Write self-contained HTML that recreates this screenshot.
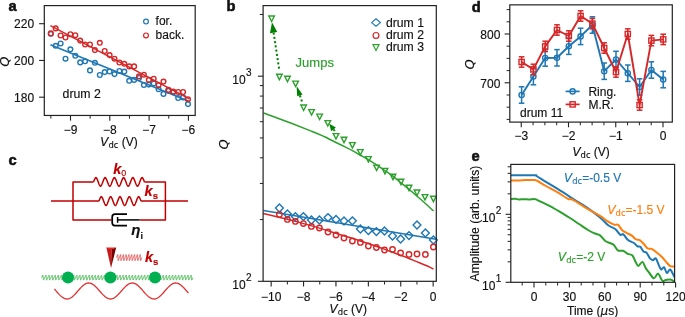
<!DOCTYPE html>
<html><head><meta charset="utf-8"><title>Figure</title>
<style>
html,body{margin:0;padding:0;background:#fff;}
svg{display:block;will-change:transform;font-family:"Liberation Sans",sans-serif;}
</style></head><body>
<svg width="685" height="317" viewBox="0 0 685 317">
<rect width="685" height="317" fill="#fff"/>
<text x="8.4" y="11" font-size="14.7" text-anchor="start" fill="#111" font-weight="bold" stroke="#111" stroke-width="0.55">a</text>
<line x1="50.4" y1="44.7" x2="189.4" y2="101.5" stroke="#1f77b4" stroke-width="1.5" />
<circle cx="50.8" cy="33.8" r="2.35" fill="none" stroke="#1f77b4" stroke-width="1.4"/>
<circle cx="55.7" cy="45.8" r="2.35" fill="none" stroke="#1f77b4" stroke-width="1.4"/>
<circle cx="60.6" cy="43.5" r="2.35" fill="none" stroke="#1f77b4" stroke-width="1.4"/>
<circle cx="65.5" cy="58.7" r="2.35" fill="none" stroke="#1f77b4" stroke-width="1.4"/>
<circle cx="70.4" cy="49.3" r="2.35" fill="none" stroke="#1f77b4" stroke-width="1.4"/>
<circle cx="75.3" cy="55.8" r="2.35" fill="none" stroke="#1f77b4" stroke-width="1.4"/>
<circle cx="80.2" cy="62.4" r="2.35" fill="none" stroke="#1f77b4" stroke-width="1.4"/>
<circle cx="85.1" cy="61.3" r="2.35" fill="none" stroke="#1f77b4" stroke-width="1.4"/>
<circle cx="90" cy="70.4" r="2.35" fill="none" stroke="#1f77b4" stroke-width="1.4"/>
<circle cx="94.9" cy="62.8" r="2.35" fill="none" stroke="#1f77b4" stroke-width="1.4"/>
<circle cx="99.8" cy="75" r="2.35" fill="none" stroke="#1f77b4" stroke-width="1.4"/>
<circle cx="104.7" cy="72.1" r="2.35" fill="none" stroke="#1f77b4" stroke-width="1.4"/>
<circle cx="109.6" cy="71.5" r="2.35" fill="none" stroke="#1f77b4" stroke-width="1.4"/>
<circle cx="114.5" cy="74.1" r="2.35" fill="none" stroke="#1f77b4" stroke-width="1.4"/>
<circle cx="119.4" cy="71" r="2.35" fill="none" stroke="#1f77b4" stroke-width="1.4"/>
<circle cx="124.3" cy="71.6" r="2.35" fill="none" stroke="#1f77b4" stroke-width="1.4"/>
<circle cx="129.2" cy="80.8" r="2.35" fill="none" stroke="#1f77b4" stroke-width="1.4"/>
<circle cx="134.1" cy="79.9" r="2.35" fill="none" stroke="#1f77b4" stroke-width="1.4"/>
<circle cx="139" cy="78" r="2.35" fill="none" stroke="#1f77b4" stroke-width="1.4"/>
<circle cx="143.9" cy="85" r="2.35" fill="none" stroke="#1f77b4" stroke-width="1.4"/>
<circle cx="148.8" cy="84.6" r="2.35" fill="none" stroke="#1f77b4" stroke-width="1.4"/>
<circle cx="153.7" cy="83.4" r="2.35" fill="none" stroke="#1f77b4" stroke-width="1.4"/>
<circle cx="158.6" cy="89.3" r="2.35" fill="none" stroke="#1f77b4" stroke-width="1.4"/>
<circle cx="163.5" cy="93.9" r="2.35" fill="none" stroke="#1f77b4" stroke-width="1.4"/>
<circle cx="168.4" cy="90.8" r="2.35" fill="none" stroke="#1f77b4" stroke-width="1.4"/>
<circle cx="173.3" cy="92.2" r="2.35" fill="none" stroke="#1f77b4" stroke-width="1.4"/>
<circle cx="178.2" cy="98" r="2.35" fill="none" stroke="#1f77b4" stroke-width="1.4"/>
<circle cx="183.1" cy="97.4" r="2.35" fill="none" stroke="#1f77b4" stroke-width="1.4"/>
<circle cx="188" cy="104.1" r="2.35" fill="none" stroke="#1f77b4" stroke-width="1.4"/>
<line x1="50.4" y1="25.6" x2="189.4" y2="98.8" stroke="#d62728" stroke-width="1.5" />
<circle cx="50.8" cy="33.4" r="2.35" fill="none" stroke="#d62728" stroke-width="1.4"/>
<circle cx="55.7" cy="28.4" r="2.35" fill="none" stroke="#d62728" stroke-width="1.4"/>
<circle cx="60.6" cy="35.5" r="2.35" fill="none" stroke="#d62728" stroke-width="1.4"/>
<circle cx="65.5" cy="37.5" r="2.35" fill="none" stroke="#d62728" stroke-width="1.4"/>
<circle cx="70.4" cy="34.2" r="2.35" fill="none" stroke="#d62728" stroke-width="1.4"/>
<circle cx="75.3" cy="35.2" r="2.35" fill="none" stroke="#d62728" stroke-width="1.4"/>
<circle cx="80.2" cy="40.6" r="2.35" fill="none" stroke="#d62728" stroke-width="1.4"/>
<circle cx="85.1" cy="44.5" r="2.35" fill="none" stroke="#d62728" stroke-width="1.4"/>
<circle cx="90" cy="44.5" r="2.35" fill="none" stroke="#d62728" stroke-width="1.4"/>
<circle cx="94.9" cy="50.1" r="2.35" fill="none" stroke="#d62728" stroke-width="1.4"/>
<circle cx="99.8" cy="42.8" r="2.35" fill="none" stroke="#d62728" stroke-width="1.4"/>
<circle cx="104.7" cy="51" r="2.35" fill="none" stroke="#d62728" stroke-width="1.4"/>
<circle cx="109.6" cy="55.1" r="2.35" fill="none" stroke="#d62728" stroke-width="1.4"/>
<circle cx="114.5" cy="58.7" r="2.35" fill="none" stroke="#d62728" stroke-width="1.4"/>
<circle cx="119.4" cy="62.5" r="2.35" fill="none" stroke="#d62728" stroke-width="1.4"/>
<circle cx="124.3" cy="63.8" r="2.35" fill="none" stroke="#d62728" stroke-width="1.4"/>
<circle cx="129.2" cy="66.4" r="2.35" fill="none" stroke="#d62728" stroke-width="1.4"/>
<circle cx="134.1" cy="66.4" r="2.35" fill="none" stroke="#d62728" stroke-width="1.4"/>
<circle cx="139" cy="76.3" r="2.35" fill="none" stroke="#d62728" stroke-width="1.4"/>
<circle cx="143.9" cy="74.7" r="2.35" fill="none" stroke="#d62728" stroke-width="1.4"/>
<circle cx="148.8" cy="79.9" r="2.35" fill="none" stroke="#d62728" stroke-width="1.4"/>
<circle cx="153.7" cy="78.7" r="2.35" fill="none" stroke="#d62728" stroke-width="1.4"/>
<circle cx="158.6" cy="85.1" r="2.35" fill="none" stroke="#d62728" stroke-width="1.4"/>
<circle cx="163.5" cy="81.6" r="2.35" fill="none" stroke="#d62728" stroke-width="1.4"/>
<circle cx="168.4" cy="89.9" r="2.35" fill="none" stroke="#d62728" stroke-width="1.4"/>
<circle cx="173.3" cy="91.6" r="2.35" fill="none" stroke="#d62728" stroke-width="1.4"/>
<circle cx="178.2" cy="92" r="2.35" fill="none" stroke="#d62728" stroke-width="1.4"/>
<circle cx="183.1" cy="92" r="2.35" fill="none" stroke="#d62728" stroke-width="1.4"/>
<circle cx="188" cy="99.2" r="2.35" fill="none" stroke="#d62728" stroke-width="1.4"/>
<rect x="44.3" y="5.6" width="150.9" height="109.85" fill="none" stroke="#222" stroke-width="1.2"/>
<line x1="70.5" y1="115.45" x2="70.5" y2="120.65" stroke="#222" stroke-width="1.1" />
<text x="70.5" y="133.9" font-size="12" text-anchor="middle" fill="#111"  stroke="#111" stroke-width="0.15">−9</text>
<line x1="109.8" y1="115.45" x2="109.8" y2="120.65" stroke="#222" stroke-width="1.1" />
<text x="109.8" y="133.9" font-size="12" text-anchor="middle" fill="#111"  stroke="#111" stroke-width="0.15">−8</text>
<line x1="149.1" y1="115.45" x2="149.1" y2="120.65" stroke="#222" stroke-width="1.1" />
<text x="149.1" y="133.9" font-size="12" text-anchor="middle" fill="#111"  stroke="#111" stroke-width="0.15">−7</text>
<line x1="188.4" y1="115.45" x2="188.4" y2="120.65" stroke="#222" stroke-width="1.1" />
<text x="188.4" y="133.9" font-size="12" text-anchor="middle" fill="#111"  stroke="#111" stroke-width="0.15">−6</text>
<line x1="50.85" y1="115.45" x2="50.85" y2="118.65" stroke="#222" stroke-width="1.0" />
<line x1="90.15" y1="115.45" x2="90.15" y2="118.65" stroke="#222" stroke-width="1.0" />
<line x1="129.45" y1="115.45" x2="129.45" y2="118.65" stroke="#222" stroke-width="1.0" />
<line x1="168.75" y1="115.45" x2="168.75" y2="118.65" stroke="#222" stroke-width="1.0" />
<line x1="39.1" y1="97.2" x2="44.3" y2="97.2" stroke="#222" stroke-width="1.1" />
<text x="34.1" y="101.5" font-size="12" text-anchor="end" fill="#111"  stroke="#111" stroke-width="0.15">180</text>
<line x1="39.1" y1="60.45" x2="44.3" y2="60.45" stroke="#222" stroke-width="1.1" />
<text x="34.1" y="64.75" font-size="12" text-anchor="end" fill="#111"  stroke="#111" stroke-width="0.15">200</text>
<line x1="39.1" y1="23.7" x2="44.3" y2="23.7" stroke="#222" stroke-width="1.1" />
<text x="34.1" y="28" font-size="12" text-anchor="end" fill="#111"  stroke="#111" stroke-width="0.15">220</text>
<text x="100.3" y="146.4" font-size="12" text-anchor="start" fill="#111" stroke="#111" stroke-width="0.15"><tspan font-style="italic" font-family="DejaVu Sans, sans-serif">V</tspan><tspan font-size="8.4" dy="2" font-family="DejaVu Sans, sans-serif">dc</tspan><tspan dy="-2"> (V)</tspan></text>
<text transform="translate(9.4,61.6) rotate(-90)" font-size="13" text-anchor="middle" font-style="italic" font-family="DejaVu Sans, sans-serif" fill="#111" stroke="#111" stroke-width="0.15">Q</text>
<text x="62.6" y="97.9" font-size="12.3" text-anchor="start" fill="#111"  stroke="#111" stroke-width="0.15">drum 2</text>
<circle cx="146" cy="21.6" r="2.4" fill="none" stroke="#1f77b4" stroke-width="1.2"/>
<text x="155.6" y="25.2" font-size="12" text-anchor="start" fill="#111"  stroke="#111" stroke-width="0.15">for.</text>
<circle cx="146" cy="35.4" r="2.4" fill="none" stroke="#d62728" stroke-width="1.2"/>
<text x="155.6" y="38.6" font-size="12" text-anchor="start" fill="#111"  stroke="#111" stroke-width="0.15">back.</text>
<text x="226.6" y="11.1" font-size="14.7" text-anchor="start" fill="#111" font-weight="bold" stroke="#111" stroke-width="0.55">b</text>
<path d="M263.6,113 C279.07,118.87 285.87,120.77 310,130.6 C334.13,140.43 319.33,134.37 336,142.5 C352.67,150.63 344,145.83 360,155 C376,164.17 370.67,161 384,170 C397.33,179 388.67,173 400,182 C411.33,191 406.8,187.33 418,197 C429.2,206.67 428.4,206.33 433.6,211" fill="none" stroke="#2ca02c" stroke-width="1.5" stroke-linejoin="round"/>
<line x1="263.4" y1="210.6" x2="436" y2="239.3" stroke="#1f77b4" stroke-width="1.5" />
<path d="M263.1,213.4 C275.4,216.47 276.03,216.07 300,222.6 C323.97,229.13 313.33,226.37 335,233 C356.67,239.63 346,236.17 365,242.5 C384,248.83 373.67,245.17 392,252 C410.33,258.83 406.17,257.33 420,263 C433.83,268.67 429,267 433.5,269" fill="none" stroke="#d62728" stroke-width="1.5" stroke-linejoin="round"/>
<path d="M275.5,208 L279.4,204.1 L283.3,208 L279.4,211.9 Z" fill="none" stroke="#1f77b4" stroke-width="1.4"/>
<path d="M283.5,214 L287.4,210.1 L291.3,214 L287.4,217.9 Z" fill="none" stroke="#1f77b4" stroke-width="1.4"/>
<path d="M291.5,216.6 L295.4,212.7 L299.3,216.6 L295.4,220.5 Z" fill="none" stroke="#1f77b4" stroke-width="1.4"/>
<path d="M299.5,216.6 L303.4,212.7 L307.3,216.6 L303.4,220.5 Z" fill="none" stroke="#1f77b4" stroke-width="1.4"/>
<path d="M307.5,220 L311.4,216.1 L315.3,220 L311.4,223.9 Z" fill="none" stroke="#1f77b4" stroke-width="1.4"/>
<path d="M315.5,220 L319.4,216.1 L323.3,220 L319.4,223.9 Z" fill="none" stroke="#1f77b4" stroke-width="1.4"/>
<path d="M324.1,217.6 L328,213.7 L331.9,217.6 L328,221.5 Z" fill="none" stroke="#1f77b4" stroke-width="1.4"/>
<path d="M332.1,219.4 L336,215.5 L339.9,219.4 L336,223.3 Z" fill="none" stroke="#1f77b4" stroke-width="1.4"/>
<path d="M340.1,221 L344,217.1 L347.9,221 L344,224.9 Z" fill="none" stroke="#1f77b4" stroke-width="1.4"/>
<path d="M348.5,220.8 L352.4,216.9 L356.3,220.8 L352.4,224.7 Z" fill="none" stroke="#1f77b4" stroke-width="1.4"/>
<path d="M356.5,229 L360.4,225.1 L364.3,229 L360.4,232.9 Z" fill="none" stroke="#1f77b4" stroke-width="1.4"/>
<path d="M364.5,230.6 L368.4,226.7 L372.3,230.6 L368.4,234.5 Z" fill="none" stroke="#1f77b4" stroke-width="1.4"/>
<path d="M372.5,231.6 L376.4,227.7 L380.3,231.6 L376.4,235.5 Z" fill="none" stroke="#1f77b4" stroke-width="1.4"/>
<path d="M380.6,231 L384.5,227.1 L388.4,231 L384.5,234.9 Z" fill="none" stroke="#1f77b4" stroke-width="1.4"/>
<path d="M388.6,236 L392.5,232.1 L396.4,236 L392.5,239.9 Z" fill="none" stroke="#1f77b4" stroke-width="1.4"/>
<path d="M396.7,239 L400.6,235.1 L404.5,239 L400.6,242.9 Z" fill="none" stroke="#1f77b4" stroke-width="1.4"/>
<path d="M405.1,235.6 L409,231.7 L412.9,235.6 L409,239.5 Z" fill="none" stroke="#1f77b4" stroke-width="1.4"/>
<path d="M413.1,225 L417,221.1 L420.9,225 L417,228.9 Z" fill="none" stroke="#1f77b4" stroke-width="1.4"/>
<path d="M421.5,233 L425.4,229.1 L429.3,233 L425.4,236.9 Z" fill="none" stroke="#1f77b4" stroke-width="1.4"/>
<path d="M429.5,240 L433.4,236.1 L437.3,240 L433.4,243.9 Z" fill="none" stroke="#1f77b4" stroke-width="1.4"/>
<circle cx="279.4" cy="214.4" r="2.7" fill="none" stroke="#d62728" stroke-width="1.4"/>
<circle cx="287.4" cy="219.4" r="2.7" fill="none" stroke="#d62728" stroke-width="1.4"/>
<circle cx="295.4" cy="221.4" r="2.7" fill="none" stroke="#d62728" stroke-width="1.4"/>
<circle cx="303.4" cy="223.6" r="2.7" fill="none" stroke="#d62728" stroke-width="1.4"/>
<circle cx="311.4" cy="226.4" r="2.7" fill="none" stroke="#d62728" stroke-width="1.4"/>
<circle cx="319.4" cy="228" r="2.7" fill="none" stroke="#d62728" stroke-width="1.4"/>
<circle cx="328" cy="232" r="2.7" fill="none" stroke="#d62728" stroke-width="1.4"/>
<circle cx="336" cy="235" r="2.7" fill="none" stroke="#d62728" stroke-width="1.4"/>
<circle cx="344" cy="238" r="2.7" fill="none" stroke="#d62728" stroke-width="1.4"/>
<circle cx="352.4" cy="241" r="2.7" fill="none" stroke="#d62728" stroke-width="1.4"/>
<circle cx="360.4" cy="242.4" r="2.7" fill="none" stroke="#d62728" stroke-width="1.4"/>
<circle cx="368.4" cy="246" r="2.7" fill="none" stroke="#d62728" stroke-width="1.4"/>
<circle cx="376.4" cy="247.5" r="2.7" fill="none" stroke="#d62728" stroke-width="1.4"/>
<circle cx="384.5" cy="250" r="2.7" fill="none" stroke="#d62728" stroke-width="1.4"/>
<circle cx="392.5" cy="249.5" r="2.7" fill="none" stroke="#d62728" stroke-width="1.4"/>
<circle cx="400.6" cy="253" r="2.7" fill="none" stroke="#d62728" stroke-width="1.4"/>
<circle cx="409" cy="254.4" r="2.7" fill="none" stroke="#d62728" stroke-width="1.4"/>
<circle cx="417" cy="254" r="2.7" fill="none" stroke="#d62728" stroke-width="1.4"/>
<circle cx="425.4" cy="254.4" r="2.7" fill="none" stroke="#d62728" stroke-width="1.4"/>
<circle cx="433.4" cy="247" r="2.7" fill="none" stroke="#d62728" stroke-width="1.4"/>
<path d="M268.8,16.02 L274.4,16.02 L271.6,21.48 Z" fill="none" stroke="#2ca02c" stroke-width="1.4" stroke-linejoin="miter"/>
<path d="M276.6,74.22 L282.2,74.22 L279.4,79.68 Z" fill="none" stroke="#2ca02c" stroke-width="1.4" stroke-linejoin="miter"/>
<path d="M284.7,76.22 L290.3,76.22 L287.5,81.68 Z" fill="none" stroke="#2ca02c" stroke-width="1.4" stroke-linejoin="miter"/>
<path d="M292.8,81.12 L298.4,81.12 L295.6,86.58 Z" fill="none" stroke="#2ca02c" stroke-width="1.4" stroke-linejoin="miter"/>
<path d="M300.8,105.02 L306.4,105.02 L303.6,110.48 Z" fill="none" stroke="#2ca02c" stroke-width="1.4" stroke-linejoin="miter"/>
<path d="M308.8,109.62 L314.4,109.62 L311.6,115.08 Z" fill="none" stroke="#2ca02c" stroke-width="1.4" stroke-linejoin="miter"/>
<path d="M316.8,114.12 L322.4,114.12 L319.6,119.58 Z" fill="none" stroke="#2ca02c" stroke-width="1.4" stroke-linejoin="miter"/>
<path d="M325,120.62 L330.6,120.62 L327.8,126.08 Z" fill="none" stroke="#2ca02c" stroke-width="1.4" stroke-linejoin="miter"/>
<path d="M333.2,133.62 L338.8,133.62 L336,139.08 Z" fill="none" stroke="#2ca02c" stroke-width="1.4" stroke-linejoin="miter"/>
<path d="M341.2,137.22 L346.8,137.22 L344,142.68 Z" fill="none" stroke="#2ca02c" stroke-width="1.4" stroke-linejoin="miter"/>
<path d="M349.6,142.62 L355.2,142.62 L352.4,148.08 Z" fill="none" stroke="#2ca02c" stroke-width="1.4" stroke-linejoin="miter"/>
<path d="M357.5,149.62 L363.1,149.62 L360.3,155.08 Z" fill="none" stroke="#2ca02c" stroke-width="1.4" stroke-linejoin="miter"/>
<path d="M365.6,156.62 L371.2,156.62 L368.4,162.08 Z" fill="none" stroke="#2ca02c" stroke-width="1.4" stroke-linejoin="miter"/>
<path d="M373.8,165.12 L379.4,165.12 L376.6,170.58 Z" fill="none" stroke="#2ca02c" stroke-width="1.4" stroke-linejoin="miter"/>
<path d="M382.2,168.42 L387.8,168.42 L385,173.88 Z" fill="none" stroke="#2ca02c" stroke-width="1.4" stroke-linejoin="miter"/>
<path d="M390.2,174.22 L395.8,174.22 L393,179.68 Z" fill="none" stroke="#2ca02c" stroke-width="1.4" stroke-linejoin="miter"/>
<path d="M398.2,179.22 L403.8,179.22 L401,184.68 Z" fill="none" stroke="#2ca02c" stroke-width="1.4" stroke-linejoin="miter"/>
<path d="M406.2,185.22 L411.8,185.22 L409,190.68 Z" fill="none" stroke="#2ca02c" stroke-width="1.4" stroke-linejoin="miter"/>
<path d="M414.2,190.02 L419.8,190.02 L417,195.48 Z" fill="none" stroke="#2ca02c" stroke-width="1.4" stroke-linejoin="miter"/>
<path d="M422.2,194.62 L427.8,194.62 L425,200.08 Z" fill="none" stroke="#2ca02c" stroke-width="1.4" stroke-linejoin="miter"/>
<path d="M430.6,196.22 L436.2,196.22 L433.4,201.68 Z" fill="none" stroke="#2ca02c" stroke-width="1.4" stroke-linejoin="miter"/>
<path d="M272,22.2 L269.93,33.14 L277.24,32.02 Z" fill="#008000"/>
<line x1="273.59" y1="32.58" x2="279.3" y2="70" stroke="#008000" stroke-width="2" stroke-dasharray="2 2.3"/>
<path d="M296.6,86 L297.22,96.37 L302.51,94.54 Z" fill="#008000"/>
<line x1="299.87" y1="95.45" x2="302.3" y2="102.5" stroke="#008000" stroke-width="2" stroke-dasharray="2 2.3"/>
<path d="M329.3,123.8 L331.1,131.2 L335.9,127.6 Z" fill="#008000"/>
<line x1="333.5" y1="129.4" x2="335.3" y2="131.8" stroke="#008000" stroke-width="2" stroke-dasharray="2 2.3"/>
<text x="295.6" y="67" font-size="13" text-anchor="start" fill="#2ca02c"  stroke="#2ca02c" stroke-width="0.15">Jumps</text>
<rect x="263.1" y="5.6" width="173.2" height="275.7" fill="none" stroke="#222" stroke-width="1.2"/>
<line x1="271.15" y1="281.3" x2="271.15" y2="286.5" stroke="#222" stroke-width="1.1" />
<text x="271.15" y="301" font-size="12" text-anchor="middle" fill="#111"  stroke="#111" stroke-width="0.15">−10</text>
<line x1="303.55" y1="281.3" x2="303.55" y2="286.5" stroke="#222" stroke-width="1.1" />
<text x="303.55" y="301" font-size="12" text-anchor="middle" fill="#111"  stroke="#111" stroke-width="0.15">−8</text>
<line x1="335.95" y1="281.3" x2="335.95" y2="286.5" stroke="#222" stroke-width="1.1" />
<text x="335.95" y="301" font-size="12" text-anchor="middle" fill="#111"  stroke="#111" stroke-width="0.15">−6</text>
<line x1="368.35" y1="281.3" x2="368.35" y2="286.5" stroke="#222" stroke-width="1.1" />
<text x="368.35" y="301" font-size="12" text-anchor="middle" fill="#111"  stroke="#111" stroke-width="0.15">−4</text>
<line x1="400.75" y1="281.3" x2="400.75" y2="286.5" stroke="#222" stroke-width="1.1" />
<text x="400.75" y="301" font-size="12" text-anchor="middle" fill="#111"  stroke="#111" stroke-width="0.15">−2</text>
<line x1="433.15" y1="281.3" x2="433.15" y2="286.5" stroke="#222" stroke-width="1.1" />
<text x="433.15" y="301" font-size="12" text-anchor="middle" fill="#111"  stroke="#111" stroke-width="0.15">0</text>
<line x1="287.35" y1="281.3" x2="287.35" y2="284.5" stroke="#222" stroke-width="1.0" />
<line x1="319.75" y1="281.3" x2="319.75" y2="284.5" stroke="#222" stroke-width="1.0" />
<line x1="352.15" y1="281.3" x2="352.15" y2="284.5" stroke="#222" stroke-width="1.0" />
<line x1="384.55" y1="281.3" x2="384.55" y2="284.5" stroke="#222" stroke-width="1.0" />
<line x1="416.95" y1="281.3" x2="416.95" y2="284.5" stroke="#222" stroke-width="1.0" />
<line x1="257.9" y1="281.3" x2="263.1" y2="281.3" stroke="#222" stroke-width="1.1" />
<line x1="257.9" y1="76.2" x2="263.1" y2="76.2" stroke="#222" stroke-width="1.1" />
<line x1="259.9" y1="219.56" x2="263.1" y2="219.56" stroke="#222" stroke-width="1.0" />
<line x1="259.9" y1="183.44" x2="263.1" y2="183.44" stroke="#222" stroke-width="1.0" />
<line x1="259.9" y1="157.82" x2="263.1" y2="157.82" stroke="#222" stroke-width="1.0" />
<line x1="259.9" y1="137.94" x2="263.1" y2="137.94" stroke="#222" stroke-width="1.0" />
<line x1="259.9" y1="121.7" x2="263.1" y2="121.7" stroke="#222" stroke-width="1.0" />
<line x1="259.9" y1="107.97" x2="263.1" y2="107.97" stroke="#222" stroke-width="1.0" />
<line x1="259.9" y1="96.08" x2="263.1" y2="96.08" stroke="#222" stroke-width="1.0" />
<line x1="259.9" y1="85.58" x2="263.1" y2="85.58" stroke="#222" stroke-width="1.0" />
<line x1="259.9" y1="14.46" x2="263.1" y2="14.46" stroke="#222" stroke-width="1.0" />
<text x="232.3" y="288.8" font-size="12" fill="#111" stroke="#111" stroke-width="0.15">10<tspan font-size="10" dy="-8" dx="0.4">2</tspan></text>
<text x="232.3" y="83.8" font-size="12" fill="#111" stroke="#111" stroke-width="0.15">10<tspan font-size="10" dy="-8" dx="0.4">3</tspan></text>
<text x="329.6" y="313" font-size="12" text-anchor="start" fill="#111" stroke="#111" stroke-width="0.15"><tspan font-style="italic" font-family="DejaVu Sans, sans-serif">V</tspan><tspan font-size="8.4" dy="2" font-family="DejaVu Sans, sans-serif">dc</tspan><tspan dy="-2"> (V)</tspan></text>
<text transform="translate(227.6,144.4) rotate(-90)" font-size="13" text-anchor="middle" font-style="italic" font-family="DejaVu Sans, sans-serif" fill="#111" stroke="#111" stroke-width="0.15">Q</text>
<path d="M371.6,22.6 L376,18.9 L380.4,22.6 L376,26.3 Z" fill="none" stroke="#1f77b4" stroke-width="1.2"/>
<text x="386" y="26.6" font-size="12.2" text-anchor="start" fill="#111"  stroke="#111" stroke-width="0.15">drum 1</text>
<circle cx="376" cy="35.4" r="2.9" fill="none" stroke="#d62728" stroke-width="1.2"/>
<text x="386" y="39" font-size="12.2" text-anchor="start" fill="#111"  stroke="#111" stroke-width="0.15">drum 2</text>
<path d="M373,44.65 L379,44.65 L376,50.5 Z" fill="none" stroke="#2ca02c" stroke-width="1.2" stroke-linejoin="miter"/>
<text x="386" y="51" font-size="12.2" text-anchor="start" fill="#111"  stroke="#111" stroke-width="0.15">drum 3</text>
<text x="471.7" y="11.7" font-size="14.7" text-anchor="start" fill="#111" font-weight="bold" stroke="#111" stroke-width="0.55">d</text>
<polyline points="521.6,95 533.4,76.6 545.2,58 557,57.8 568.8,46.2 580.6,36.4 592.4,25 604.2,71.2 616,59.5 627.8,73.2 639.6,87 651.4,70 663.2,79.6" fill="none" stroke="#1f77b4" stroke-width="1.9" stroke-linejoin="round" />
<line x1="521.6" y1="86.8" x2="521.6" y2="103.2" stroke="#1f77b4" stroke-width="1.5" />
<line x1="518.8" y1="86.8" x2="524.4" y2="86.8" stroke="#1f77b4" stroke-width="1.5" />
<line x1="518.8" y1="103.2" x2="524.4" y2="103.2" stroke="#1f77b4" stroke-width="1.5" />
<circle cx="521.6" cy="95" r="2.6" fill="none" stroke="#1f77b4" stroke-width="1.4"/>
<line x1="533.4" y1="68.4" x2="533.4" y2="84.8" stroke="#1f77b4" stroke-width="1.5" />
<line x1="530.6" y1="68.4" x2="536.2" y2="68.4" stroke="#1f77b4" stroke-width="1.5" />
<line x1="530.6" y1="84.8" x2="536.2" y2="84.8" stroke="#1f77b4" stroke-width="1.5" />
<circle cx="533.4" cy="76.6" r="2.6" fill="none" stroke="#1f77b4" stroke-width="1.4"/>
<line x1="545.2" y1="49.8" x2="545.2" y2="66.2" stroke="#1f77b4" stroke-width="1.5" />
<line x1="542.4" y1="49.8" x2="548" y2="49.8" stroke="#1f77b4" stroke-width="1.5" />
<line x1="542.4" y1="66.2" x2="548" y2="66.2" stroke="#1f77b4" stroke-width="1.5" />
<circle cx="545.2" cy="58" r="2.6" fill="none" stroke="#1f77b4" stroke-width="1.4"/>
<line x1="557" y1="49.6" x2="557" y2="66" stroke="#1f77b4" stroke-width="1.5" />
<line x1="554.2" y1="49.6" x2="559.8" y2="49.6" stroke="#1f77b4" stroke-width="1.5" />
<line x1="554.2" y1="66" x2="559.8" y2="66" stroke="#1f77b4" stroke-width="1.5" />
<circle cx="557" cy="57.8" r="2.6" fill="none" stroke="#1f77b4" stroke-width="1.4"/>
<line x1="568.8" y1="38" x2="568.8" y2="54.4" stroke="#1f77b4" stroke-width="1.5" />
<line x1="566" y1="38" x2="571.6" y2="38" stroke="#1f77b4" stroke-width="1.5" />
<line x1="566" y1="54.4" x2="571.6" y2="54.4" stroke="#1f77b4" stroke-width="1.5" />
<circle cx="568.8" cy="46.2" r="2.6" fill="none" stroke="#1f77b4" stroke-width="1.4"/>
<line x1="580.6" y1="28.2" x2="580.6" y2="44.6" stroke="#1f77b4" stroke-width="1.5" />
<line x1="577.8" y1="28.2" x2="583.4" y2="28.2" stroke="#1f77b4" stroke-width="1.5" />
<line x1="577.8" y1="44.6" x2="583.4" y2="44.6" stroke="#1f77b4" stroke-width="1.5" />
<circle cx="580.6" cy="36.4" r="2.6" fill="none" stroke="#1f77b4" stroke-width="1.4"/>
<line x1="592.4" y1="16.8" x2="592.4" y2="33.2" stroke="#1f77b4" stroke-width="1.5" />
<line x1="589.6" y1="16.8" x2="595.2" y2="16.8" stroke="#1f77b4" stroke-width="1.5" />
<line x1="589.6" y1="33.2" x2="595.2" y2="33.2" stroke="#1f77b4" stroke-width="1.5" />
<circle cx="592.4" cy="25" r="2.6" fill="none" stroke="#1f77b4" stroke-width="1.4"/>
<line x1="604.2" y1="63" x2="604.2" y2="79.4" stroke="#1f77b4" stroke-width="1.5" />
<line x1="601.4" y1="63" x2="607" y2="63" stroke="#1f77b4" stroke-width="1.5" />
<line x1="601.4" y1="79.4" x2="607" y2="79.4" stroke="#1f77b4" stroke-width="1.5" />
<circle cx="604.2" cy="71.2" r="2.6" fill="none" stroke="#1f77b4" stroke-width="1.4"/>
<line x1="616" y1="51.3" x2="616" y2="67.7" stroke="#1f77b4" stroke-width="1.5" />
<line x1="613.2" y1="51.3" x2="618.8" y2="51.3" stroke="#1f77b4" stroke-width="1.5" />
<line x1="613.2" y1="67.7" x2="618.8" y2="67.7" stroke="#1f77b4" stroke-width="1.5" />
<circle cx="616" cy="59.5" r="2.6" fill="none" stroke="#1f77b4" stroke-width="1.4"/>
<line x1="627.8" y1="65" x2="627.8" y2="81.4" stroke="#1f77b4" stroke-width="1.5" />
<line x1="625" y1="65" x2="630.6" y2="65" stroke="#1f77b4" stroke-width="1.5" />
<line x1="625" y1="81.4" x2="630.6" y2="81.4" stroke="#1f77b4" stroke-width="1.5" />
<circle cx="627.8" cy="73.2" r="2.6" fill="none" stroke="#1f77b4" stroke-width="1.4"/>
<line x1="639.6" y1="78.8" x2="639.6" y2="95.2" stroke="#1f77b4" stroke-width="1.5" />
<line x1="636.8" y1="78.8" x2="642.4" y2="78.8" stroke="#1f77b4" stroke-width="1.5" />
<line x1="636.8" y1="95.2" x2="642.4" y2="95.2" stroke="#1f77b4" stroke-width="1.5" />
<circle cx="639.6" cy="87" r="2.6" fill="none" stroke="#1f77b4" stroke-width="1.4"/>
<line x1="651.4" y1="61.8" x2="651.4" y2="78.2" stroke="#1f77b4" stroke-width="1.5" />
<line x1="648.6" y1="61.8" x2="654.2" y2="61.8" stroke="#1f77b4" stroke-width="1.5" />
<line x1="648.6" y1="78.2" x2="654.2" y2="78.2" stroke="#1f77b4" stroke-width="1.5" />
<circle cx="651.4" cy="70" r="2.6" fill="none" stroke="#1f77b4" stroke-width="1.4"/>
<line x1="663.2" y1="71.4" x2="663.2" y2="87.8" stroke="#1f77b4" stroke-width="1.5" />
<line x1="660.4" y1="71.4" x2="666" y2="71.4" stroke="#1f77b4" stroke-width="1.5" />
<line x1="660.4" y1="87.8" x2="666" y2="87.8" stroke="#1f77b4" stroke-width="1.5" />
<circle cx="663.2" cy="79.6" r="2.6" fill="none" stroke="#1f77b4" stroke-width="1.4"/>
<polyline points="521.6,62 533.4,69.4 545.2,46.4 557,30 568.8,36 580.6,16 592.4,23.6 604.2,48 616,72 627.8,34 639.6,105 651.4,40.6 663.2,39.4" fill="none" stroke="#d62728" stroke-width="1.9" stroke-linejoin="round" />
<line x1="521.6" y1="56.8" x2="521.6" y2="67.2" stroke="#d62728" stroke-width="1.5" />
<line x1="518.8" y1="56.8" x2="524.4" y2="56.8" stroke="#d62728" stroke-width="1.5" />
<line x1="518.8" y1="67.2" x2="524.4" y2="67.2" stroke="#d62728" stroke-width="1.5" />
<rect x="519" y="59.4" width="5.2" height="5.2" fill="none" stroke="#d62728" stroke-width="1.4"/>
<line x1="533.4" y1="64.2" x2="533.4" y2="74.6" stroke="#d62728" stroke-width="1.5" />
<line x1="530.6" y1="64.2" x2="536.2" y2="64.2" stroke="#d62728" stroke-width="1.5" />
<line x1="530.6" y1="74.6" x2="536.2" y2="74.6" stroke="#d62728" stroke-width="1.5" />
<rect x="530.8" y="66.8" width="5.2" height="5.2" fill="none" stroke="#d62728" stroke-width="1.4"/>
<line x1="545.2" y1="41.2" x2="545.2" y2="51.6" stroke="#d62728" stroke-width="1.5" />
<line x1="542.4" y1="41.2" x2="548" y2="41.2" stroke="#d62728" stroke-width="1.5" />
<line x1="542.4" y1="51.6" x2="548" y2="51.6" stroke="#d62728" stroke-width="1.5" />
<rect x="542.6" y="43.8" width="5.2" height="5.2" fill="none" stroke="#d62728" stroke-width="1.4"/>
<line x1="557" y1="24.8" x2="557" y2="35.2" stroke="#d62728" stroke-width="1.5" />
<line x1="554.2" y1="24.8" x2="559.8" y2="24.8" stroke="#d62728" stroke-width="1.5" />
<line x1="554.2" y1="35.2" x2="559.8" y2="35.2" stroke="#d62728" stroke-width="1.5" />
<rect x="554.4" y="27.4" width="5.2" height="5.2" fill="none" stroke="#d62728" stroke-width="1.4"/>
<line x1="568.8" y1="30.8" x2="568.8" y2="41.2" stroke="#d62728" stroke-width="1.5" />
<line x1="566" y1="30.8" x2="571.6" y2="30.8" stroke="#d62728" stroke-width="1.5" />
<line x1="566" y1="41.2" x2="571.6" y2="41.2" stroke="#d62728" stroke-width="1.5" />
<rect x="566.2" y="33.4" width="5.2" height="5.2" fill="none" stroke="#d62728" stroke-width="1.4"/>
<line x1="580.6" y1="10.8" x2="580.6" y2="21.2" stroke="#d62728" stroke-width="1.5" />
<line x1="577.8" y1="10.8" x2="583.4" y2="10.8" stroke="#d62728" stroke-width="1.5" />
<line x1="577.8" y1="21.2" x2="583.4" y2="21.2" stroke="#d62728" stroke-width="1.5" />
<rect x="578" y="13.4" width="5.2" height="5.2" fill="none" stroke="#d62728" stroke-width="1.4"/>
<line x1="592.4" y1="18.4" x2="592.4" y2="28.8" stroke="#d62728" stroke-width="1.5" />
<line x1="589.6" y1="18.4" x2="595.2" y2="18.4" stroke="#d62728" stroke-width="1.5" />
<line x1="589.6" y1="28.8" x2="595.2" y2="28.8" stroke="#d62728" stroke-width="1.5" />
<rect x="589.8" y="21" width="5.2" height="5.2" fill="none" stroke="#d62728" stroke-width="1.4"/>
<line x1="604.2" y1="42.8" x2="604.2" y2="53.2" stroke="#d62728" stroke-width="1.5" />
<line x1="601.4" y1="42.8" x2="607" y2="42.8" stroke="#d62728" stroke-width="1.5" />
<line x1="601.4" y1="53.2" x2="607" y2="53.2" stroke="#d62728" stroke-width="1.5" />
<rect x="601.6" y="45.4" width="5.2" height="5.2" fill="none" stroke="#d62728" stroke-width="1.4"/>
<line x1="616" y1="66.8" x2="616" y2="77.2" stroke="#d62728" stroke-width="1.5" />
<line x1="613.2" y1="66.8" x2="618.8" y2="66.8" stroke="#d62728" stroke-width="1.5" />
<line x1="613.2" y1="77.2" x2="618.8" y2="77.2" stroke="#d62728" stroke-width="1.5" />
<rect x="613.4" y="69.4" width="5.2" height="5.2" fill="none" stroke="#d62728" stroke-width="1.4"/>
<line x1="627.8" y1="28.8" x2="627.8" y2="39.2" stroke="#d62728" stroke-width="1.5" />
<line x1="625" y1="28.8" x2="630.6" y2="28.8" stroke="#d62728" stroke-width="1.5" />
<line x1="625" y1="39.2" x2="630.6" y2="39.2" stroke="#d62728" stroke-width="1.5" />
<rect x="625.2" y="31.4" width="5.2" height="5.2" fill="none" stroke="#d62728" stroke-width="1.4"/>
<line x1="639.6" y1="99.8" x2="639.6" y2="110.2" stroke="#d62728" stroke-width="1.5" />
<line x1="636.8" y1="99.8" x2="642.4" y2="99.8" stroke="#d62728" stroke-width="1.5" />
<line x1="636.8" y1="110.2" x2="642.4" y2="110.2" stroke="#d62728" stroke-width="1.5" />
<rect x="637" y="102.4" width="5.2" height="5.2" fill="none" stroke="#d62728" stroke-width="1.4"/>
<line x1="651.4" y1="35.4" x2="651.4" y2="45.8" stroke="#d62728" stroke-width="1.5" />
<line x1="648.6" y1="35.4" x2="654.2" y2="35.4" stroke="#d62728" stroke-width="1.5" />
<line x1="648.6" y1="45.8" x2="654.2" y2="45.8" stroke="#d62728" stroke-width="1.5" />
<rect x="648.8" y="38" width="5.2" height="5.2" fill="none" stroke="#d62728" stroke-width="1.4"/>
<line x1="663.2" y1="34.2" x2="663.2" y2="44.6" stroke="#d62728" stroke-width="1.5" />
<line x1="660.4" y1="34.2" x2="666" y2="34.2" stroke="#d62728" stroke-width="1.5" />
<line x1="660.4" y1="44.6" x2="666" y2="44.6" stroke="#d62728" stroke-width="1.5" />
<rect x="660.6" y="36.8" width="5.2" height="5.2" fill="none" stroke="#d62728" stroke-width="1.4"/>
<rect x="509.8" y="4.85" width="162.5" height="117.25" fill="none" stroke="#222" stroke-width="1.2"/>
<line x1="521.25" y1="122.1" x2="521.25" y2="127.3" stroke="#222" stroke-width="1.1" />
<text x="521.25" y="140" font-size="12" text-anchor="middle" fill="#111"  stroke="#111" stroke-width="0.15">−3</text>
<line x1="568.5" y1="122.1" x2="568.5" y2="127.3" stroke="#222" stroke-width="1.1" />
<text x="568.5" y="140" font-size="12" text-anchor="middle" fill="#111"  stroke="#111" stroke-width="0.15">−2</text>
<line x1="615.75" y1="122.1" x2="615.75" y2="127.3" stroke="#222" stroke-width="1.1" />
<text x="615.75" y="140" font-size="12" text-anchor="middle" fill="#111"  stroke="#111" stroke-width="0.15">−1</text>
<line x1="663" y1="122.1" x2="663" y2="127.3" stroke="#222" stroke-width="1.1" />
<text x="663" y="140" font-size="12" text-anchor="middle" fill="#111"  stroke="#111" stroke-width="0.15">0</text>
<line x1="533.06" y1="122.1" x2="533.06" y2="125.3" stroke="#222" stroke-width="1.0" />
<line x1="544.88" y1="122.1" x2="544.88" y2="125.3" stroke="#222" stroke-width="1.0" />
<line x1="556.69" y1="122.1" x2="556.69" y2="125.3" stroke="#222" stroke-width="1.0" />
<line x1="580.31" y1="122.1" x2="580.31" y2="125.3" stroke="#222" stroke-width="1.0" />
<line x1="592.12" y1="122.1" x2="592.12" y2="125.3" stroke="#222" stroke-width="1.0" />
<line x1="603.94" y1="122.1" x2="603.94" y2="125.3" stroke="#222" stroke-width="1.0" />
<line x1="627.56" y1="122.1" x2="627.56" y2="125.3" stroke="#222" stroke-width="1.0" />
<line x1="639.38" y1="122.1" x2="639.38" y2="125.3" stroke="#222" stroke-width="1.0" />
<line x1="651.19" y1="122.1" x2="651.19" y2="125.3" stroke="#222" stroke-width="1.0" />
<line x1="504.6" y1="82.8" x2="509.8" y2="82.8" stroke="#222" stroke-width="1.1" />
<text x="500.4" y="87.9" font-size="12" text-anchor="end" fill="#111"  stroke="#111" stroke-width="0.15">700</text>
<line x1="504.6" y1="34" x2="509.8" y2="34" stroke="#222" stroke-width="1.1" />
<text x="500.4" y="39.1" font-size="12" text-anchor="end" fill="#111"  stroke="#111" stroke-width="0.15">800</text>
<line x1="506.6" y1="119.4" x2="509.8" y2="119.4" stroke="#222" stroke-width="1.0" />
<line x1="506.6" y1="107.2" x2="509.8" y2="107.2" stroke="#222" stroke-width="1.0" />
<line x1="506.6" y1="95" x2="509.8" y2="95" stroke="#222" stroke-width="1.0" />
<line x1="506.6" y1="70.6" x2="509.8" y2="70.6" stroke="#222" stroke-width="1.0" />
<line x1="506.6" y1="58.4" x2="509.8" y2="58.4" stroke="#222" stroke-width="1.0" />
<line x1="506.6" y1="46.2" x2="509.8" y2="46.2" stroke="#222" stroke-width="1.0" />
<line x1="506.6" y1="21.8" x2="509.8" y2="21.8" stroke="#222" stroke-width="1.0" />
<line x1="506.6" y1="9.6" x2="509.8" y2="9.6" stroke="#222" stroke-width="1.0" />
<text x="572.4" y="156.4" font-size="12" text-anchor="start" fill="#111" stroke="#111" stroke-width="0.15"><tspan font-style="italic" font-family="DejaVu Sans, sans-serif">V</tspan><tspan font-size="8.4" dy="2" font-family="DejaVu Sans, sans-serif">dc</tspan><tspan dy="-2"> (V)</tspan></text>
<text transform="translate(474,64.5) rotate(-90)" font-size="13" text-anchor="middle" font-style="italic" font-family="DejaVu Sans, sans-serif" fill="#111" stroke="#111" stroke-width="0.15">Q</text>
<text x="520" y="117" font-size="12" text-anchor="start" fill="#111"  stroke="#111" stroke-width="0.15">drum 11</text>
<line x1="565.6" y1="91.4" x2="579.6" y2="91.4" stroke="#1f77b4" stroke-width="1.7" />
<circle cx="572.6" cy="91.4" r="2.6" fill="none" stroke="#1f77b4" stroke-width="1.4"/>
<text x="588.4" y="95.6" font-size="12" text-anchor="start" fill="#111"  stroke="#111" stroke-width="0.15">Ring.</text>
<line x1="565.6" y1="104.4" x2="579.6" y2="104.4" stroke="#d62728" stroke-width="1.7" />
<rect x="570" y="101.8" width="5.2" height="5.2" fill="none" stroke="#d62728" stroke-width="1.4"/>
<text x="588.4" y="108.6" font-size="12" text-anchor="start" fill="#111"  stroke="#111" stroke-width="0.15">M.R.</text>
<text x="471.4" y="161.1" font-size="14.7" text-anchor="start" fill="#111" font-weight="bold" stroke="#111" stroke-width="0.55">e</text>
<clipPath id="ce"><rect x="510.8" y="164.4" width="163.8" height="117.9"/></clipPath>
<g clip-path="url(#ce)">
<path d="M510.6,199 C511.33,198.97 513.6,198.72 515,198.8 C516.4,198.88 517.5,199.43 519,199.5 C520.5,199.57 522.33,199.22 524,199.2 C525.67,199.18 527.33,199.43 529,199.4 C530.67,199.37 532.75,198.97 534,199 C535.25,199.03 535.33,199.13 536.5,199.6 C537.67,200.07 539.08,200.87 541,201.8 C542.92,202.73 545.67,204 548,205.2 C550.33,206.4 552.67,207.67 555,209 C557.33,210.33 559.5,211.7 562,213.2 C564.5,214.7 567.17,216.2 570,218 C572.83,219.8 576,222 579,224 C582,226 585.5,228.47 588,230 C590.5,231.53 592,232.3 594,233.2 C596,234.1 598.12,234.1 600,235.4 C601.88,236.7 603.65,239.73 605.3,241 C606.95,242.27 608.48,242.33 609.9,243 C611.32,243.67 612.48,243.78 613.8,245 C615.12,246.22 616.25,249.33 617.8,250.3 C619.35,251.27 621.43,250.22 623.1,250.8 C624.77,251.38 626.25,253.02 627.8,253.8 C629.35,254.58 631.13,254.23 632.4,255.5 C633.67,256.77 634.42,259.65 635.4,261.4 C636.38,263.15 637.13,265.92 638.3,266 C639.47,266.08 641.13,261.5 642.4,261.9 C643.67,262.3 644.73,266.55 645.9,268.4 C647.07,270.25 648.05,271.35 649.4,273 C650.75,274.65 652.55,278.2 654,278.3 C655.45,278.4 656.73,273.22 658.1,273.6 C659.47,273.98 660.93,279.53 662.2,280.6 C663.47,281.67 664.33,280.18 665.7,280 C667.07,279.82 669.03,279.3 670.4,279.5 C671.77,279.7 672.97,280.78 673.9,281.2 C674.83,281.62 675.65,281.87 676,282" fill="none" stroke="#2ca02c" stroke-width="2" stroke-linejoin="round"/>
<path d="M510.6,175.2 C514.55,175.2 529.98,175.07 534.3,175.2 C538.62,175.33 534.57,174.88 536.5,176 C538.43,177.12 542.38,179.75 545.9,181.9 C549.42,184.05 553.72,186.5 557.6,188.9 C561.48,191.3 566.3,194.42 569.2,196.3 C572.1,198.18 572.03,198.32 575,200.2 C577.97,202.08 582.83,204.73 587,207.6 C591.17,210.47 596.47,214.45 600,217.4 C603.53,220.35 605.67,223.37 608.2,225.3 C610.73,227.23 613.17,227.4 615.2,229 C617.23,230.6 619.03,234.02 620.4,234.9 C621.77,235.78 622.13,233.43 623.4,234.3 C624.67,235.17 626.25,238.65 628,240.1 C629.75,241.55 632.33,241.97 633.9,243 C635.47,244.03 636.33,245.67 637.4,246.3 C638.47,246.93 639.28,245.95 640.3,246.8 C641.32,247.65 642.47,250.43 643.5,251.4 C644.53,252.37 645.42,251.43 646.5,252.6 C647.58,253.77 648.93,257.13 650,258.4 C651.07,259.67 651.93,260.2 652.9,260.2 C653.87,260.2 654.83,257.62 655.8,258.4 C656.77,259.18 657.82,263.05 658.7,264.9 C659.58,266.75 660.22,269.12 661.1,269.5 C661.98,269.88 663.03,266.62 664,267.2 C664.97,267.78 665.87,272.62 666.9,273 C667.93,273.38 669.03,269 670.2,269.5 C671.37,270 672.93,274.42 673.9,276 C674.87,277.58 675.65,278.5 676,279" fill="none" stroke="#1f77b4" stroke-width="2" stroke-linejoin="round"/>
<path d="M510.6,180.4 C511.83,180.42 515.43,180.57 518,180.5 C520.57,180.43 523.17,180.07 526,180 C528.83,179.93 533.08,179.93 535,180.1 C536.92,180.27 535.68,180.02 537.5,181 C539.32,181.98 542.55,184.1 545.9,186 C549.25,187.9 553.92,190.25 557.6,192.4 C561.28,194.55 565.77,197.8 568,198.9 C570.23,200 569.83,198.65 571,199 C572.17,199.35 572.33,199.4 575,201 C577.67,202.6 582.83,206.13 587,208.6 C591.17,211.07 596.67,213.77 600,215.8 C603.33,217.83 604.67,219.33 607,220.8 C609.33,222.27 612.15,223.92 614,224.6 C615.85,225.28 616.73,223.97 618.1,224.9 C619.47,225.83 620.73,228.83 622.2,230.2 C623.67,231.57 625.35,232.23 626.9,233.1 C628.45,233.97 629.95,234.33 631.5,235.4 C633.05,236.47 634.83,238.72 636.2,239.5 C637.57,240.28 638.43,239.35 639.7,240.1 C640.97,240.85 642.48,242.6 643.8,244 C645.12,245.4 646.28,247.68 647.6,248.5 C648.92,249.32 650.03,248.12 651.7,248.9 C653.37,249.68 655.85,251.8 657.6,253.2 C659.35,254.6 660.85,255.93 662.2,257.3 C663.55,258.67 664.43,259.98 665.7,261.4 C666.97,262.82 668.43,264.93 669.8,265.8 C671.17,266.67 672.87,266.43 673.9,266.6 C674.93,266.77 675.65,266.77 676,266.8" fill="none" stroke="#ff7f0e" stroke-width="2" stroke-linejoin="round"/>
</g>
<rect x="510.8" y="164.4" width="163.8" height="117.9" fill="none" stroke="#222" stroke-width="1.2"/>
<line x1="534" y1="282.3" x2="534" y2="287.5" stroke="#222" stroke-width="1.1" />
<text x="534" y="301.2" font-size="12" text-anchor="middle" fill="#111"  stroke="#111" stroke-width="0.15">0</text>
<line x1="569.4" y1="282.3" x2="569.4" y2="287.5" stroke="#222" stroke-width="1.1" />
<text x="569.4" y="301.2" font-size="12" text-anchor="middle" fill="#111"  stroke="#111" stroke-width="0.15">30</text>
<line x1="604.8" y1="282.3" x2="604.8" y2="287.5" stroke="#222" stroke-width="1.1" />
<text x="604.8" y="301.2" font-size="12" text-anchor="middle" fill="#111"  stroke="#111" stroke-width="0.15">60</text>
<line x1="640.2" y1="282.3" x2="640.2" y2="287.5" stroke="#222" stroke-width="1.1" />
<text x="640.2" y="301.2" font-size="12" text-anchor="middle" fill="#111"  stroke="#111" stroke-width="0.15">90</text>
<line x1="675.6" y1="282.3" x2="675.6" y2="287.5" stroke="#222" stroke-width="1.1" />
<text x="675.6" y="301.2" font-size="12" text-anchor="middle" fill="#111"  stroke="#111" stroke-width="0.15">120</text>
<line x1="522.2" y1="282.3" x2="522.2" y2="285.5" stroke="#222" stroke-width="1.0" />
<line x1="545.8" y1="282.3" x2="545.8" y2="285.5" stroke="#222" stroke-width="1.0" />
<line x1="557.6" y1="282.3" x2="557.6" y2="285.5" stroke="#222" stroke-width="1.0" />
<line x1="581.2" y1="282.3" x2="581.2" y2="285.5" stroke="#222" stroke-width="1.0" />
<line x1="593" y1="282.3" x2="593" y2="285.5" stroke="#222" stroke-width="1.0" />
<line x1="616.6" y1="282.3" x2="616.6" y2="285.5" stroke="#222" stroke-width="1.0" />
<line x1="628.4" y1="282.3" x2="628.4" y2="285.5" stroke="#222" stroke-width="1.0" />
<line x1="652" y1="282.3" x2="652" y2="285.5" stroke="#222" stroke-width="1.0" />
<line x1="663.8" y1="282.3" x2="663.8" y2="285.5" stroke="#222" stroke-width="1.0" />
<line x1="505.6" y1="282.3" x2="510.8" y2="282.3" stroke="#222" stroke-width="1.1" />
<line x1="505.6" y1="214.3" x2="510.8" y2="214.3" stroke="#222" stroke-width="1.1" />
<line x1="507.6" y1="261.83" x2="510.8" y2="261.83" stroke="#222" stroke-width="1.0" />
<line x1="507.6" y1="249.86" x2="510.8" y2="249.86" stroke="#222" stroke-width="1.0" />
<line x1="507.6" y1="241.36" x2="510.8" y2="241.36" stroke="#222" stroke-width="1.0" />
<line x1="507.6" y1="234.77" x2="510.8" y2="234.77" stroke="#222" stroke-width="1.0" />
<line x1="507.6" y1="229.39" x2="510.8" y2="229.39" stroke="#222" stroke-width="1.0" />
<line x1="507.6" y1="224.83" x2="510.8" y2="224.83" stroke="#222" stroke-width="1.0" />
<line x1="507.6" y1="220.89" x2="510.8" y2="220.89" stroke="#222" stroke-width="1.0" />
<line x1="507.6" y1="217.41" x2="510.8" y2="217.41" stroke="#222" stroke-width="1.0" />
<line x1="507.6" y1="193.83" x2="510.8" y2="193.83" stroke="#222" stroke-width="1.0" />
<line x1="507.6" y1="181.86" x2="510.8" y2="181.86" stroke="#222" stroke-width="1.0" />
<line x1="507.6" y1="173.36" x2="510.8" y2="173.36" stroke="#222" stroke-width="1.0" />
<line x1="507.6" y1="166.77" x2="510.8" y2="166.77" stroke="#222" stroke-width="1.0" />
<text x="482" y="221.6" font-size="12" fill="#111" stroke="#111" stroke-width="0.15">10<tspan font-size="10" dy="-8" dx="0.4">2</tspan></text>
<text x="482" y="289.6" font-size="12" fill="#111" stroke="#111" stroke-width="0.15">10<tspan font-size="10" dy="-8" dx="0.4">1</tspan></text>
<text x="567" y="314.8" font-size="12" fill="#111" stroke="#111" stroke-width="0.15">Time (<tspan font-style="italic" font-family="DejaVu Sans, sans-serif">μ</tspan>s)</text>
<text transform="translate(478.7,223.5) rotate(-90)" font-size="12.2" text-anchor="middle" fill="#111" stroke="#111" stroke-width="0.15">Amplitude (arb. units)</text>
<text x="564" y="181.6" font-size="12" text-anchor="start" fill="#1f77b4" stroke="#1f77b4" stroke-width="0.15"><tspan font-style="italic" font-family="DejaVu Sans, sans-serif">V</tspan><tspan font-size="8.4" dy="2" font-family="DejaVu Sans, sans-serif">dc</tspan><tspan dy="-2">=-0.5 V</tspan></text>
<text x="607.4" y="214.4" font-size="12" text-anchor="start" fill="#ff7f0e" stroke="#ff7f0e" stroke-width="0.15"><tspan font-style="italic" font-family="DejaVu Sans, sans-serif">V</tspan><tspan font-size="8.4" dy="2" font-family="DejaVu Sans, sans-serif">dc</tspan><tspan dy="-2">=-1.5 V</tspan></text>
<text x="558" y="261" font-size="12" text-anchor="start" fill="#2ca02c" stroke="#2ca02c" stroke-width="0.15"><tspan font-style="italic" font-family="DejaVu Sans, sans-serif">V</tspan><tspan font-size="8.4" dy="2" font-family="DejaVu Sans, sans-serif">dc</tspan><tspan dy="-2">=-2 V</tspan></text>
<text x="8.4" y="164.6" font-size="14.7" text-anchor="start" fill="#111" font-weight="bold" stroke="#111" stroke-width="0.55">c</text>
<line x1="51" y1="201.1" x2="99" y2="201.1" stroke="#c00000" stroke-width="1.5" />
<line x1="141" y1="201.1" x2="188" y2="201.1" stroke="#c00000" stroke-width="1.5" />
<polyline points="93.6,181.9 73,181.9 73,219.9 111.6,219.9" fill="none" stroke="#c00000" stroke-width="1.5" stroke-linejoin="round" />
<polyline points="144.4,181.9 165.4,181.9 165.4,219.9 139.6,219.9" fill="none" stroke="#c00000" stroke-width="1.5" stroke-linejoin="round" />
<polyline points="93.6,181.9 93.8,181.36 94,180.82 94.2,180.3 94.4,179.81 94.6,179.35 94.8,178.92 95,178.54 95.2,178.21 95.4,177.94 95.6,177.72 95.8,177.56 96,177.55 96.2,177.7 96.4,177.92 96.6,178.19 96.8,178.51 97,178.89 97.2,179.31 97.4,179.77 97.6,180.26 97.8,180.77 98,181.31 98.2,181.85 98.4,182.39 98.6,182.93 98.8,183.45 99,183.95 99.2,184.41 99.4,184.84 99.6,185.22 99.8,185.56 100,185.84 100.2,186.06 100.4,186.23 100.6,186.26 100.8,186.11 101,185.91 101.2,185.64 101.4,185.32 101.6,184.95 101.8,184.53 102,184.08 102.2,183.59 102.4,183.07 102.6,182.54 102.8,182 103,181.46 103.2,180.92 103.4,180.4 103.6,179.9 103.8,179.43 104,179 104.2,178.61 104.4,178.27 104.6,177.98 104.8,177.76 105,177.59 105.2,177.53 105.4,177.67 105.6,177.87 105.8,178.13 106,178.45 106.2,178.82 106.4,179.23 106.6,179.68 106.8,180.17 107,180.68 107.2,181.21 107.4,181.75 107.6,182.3 107.8,182.83 108,183.36 108.2,183.86 108.4,184.33 108.6,184.76 108.8,185.16 109,185.5 109.2,185.79 109.4,186.03 109.6,186.2 109.8,186.28 110,186.14 110.2,185.95 110.4,185.69 110.6,185.38 110.8,185.02 111,184.61 111.2,184.16 111.4,183.68 111.6,183.17 111.8,182.64 112,182.1 112.2,181.55 112.4,181.02 112.6,180.49 112.8,179.99 113,179.51 113.2,179.07 113.4,178.68 113.6,178.33 113.8,178.03 114,177.79 114.2,177.61 114.4,177.51 114.6,177.64 114.8,177.83 115,178.08 115.2,178.39 115.4,178.75 115.6,179.15 115.8,179.6 116,180.08 116.2,180.58 116.4,181.11 116.6,181.65 116.8,182.2 117,182.74 117.2,183.26 117.4,183.77 117.6,184.25 117.8,184.69 118,185.09 118.2,185.44 118.4,185.74 118.6,185.99 118.8,186.17 119,186.3 119.2,186.17 119.4,185.99 119.6,185.74 119.8,185.44 120,185.09 120.2,184.69 120.4,184.25 120.6,183.77 120.8,183.26 121,182.74 121.2,182.2 121.4,181.65 121.6,181.11 121.8,180.58 122,180.08 122.2,179.6 122.4,179.15 122.6,178.75 122.8,178.39 123,178.08 123.2,177.83 123.4,177.64 123.6,177.51 123.8,177.61 124,177.79 124.2,178.03 124.4,178.33 124.6,178.68 124.8,179.07 125,179.51 125.2,179.99 125.4,180.49 125.6,181.02 125.8,181.55 126,182.1 126.2,182.64 126.4,183.17 126.6,183.68 126.8,184.16 127,184.61 127.2,185.02 127.4,185.38 127.6,185.69 127.8,185.95 128,186.14 128.2,186.28 128.4,186.2 128.6,186.03 128.8,185.79 129,185.5 129.2,185.16 129.4,184.76 129.6,184.33 129.8,183.86 130,183.36 130.2,182.83 130.4,182.3 130.6,181.75 130.8,181.21 131,180.68 131.2,180.17 131.4,179.68 131.6,179.23 131.8,178.82 132,178.45 132.2,178.13 132.4,177.87 132.6,177.67 132.8,177.53 133,177.59 133.2,177.76 133.4,177.98 133.6,178.27 133.8,178.61 134,179 134.2,179.43 134.4,179.9 134.6,180.4 134.8,180.92 135,181.46 135.2,182 135.4,182.54 135.6,183.07 135.8,183.59 136,184.08 136.2,184.53 136.4,184.95 136.6,185.32 136.8,185.64 137,185.91 137.2,186.11 137.4,186.26 137.6,186.23 137.8,186.06 138,185.84 138.2,185.56 138.4,185.22 138.6,184.84 138.8,184.41 139,183.95 139.2,183.45 139.4,182.93 139.6,182.39 139.8,181.85 140,181.31 140.2,180.77 140.4,180.26 140.6,179.77 140.8,179.31 141,178.89 141.2,178.51 141.4,178.19 141.6,177.92 141.8,177.7 142,177.55 142.2,177.56 142.4,177.72 142.6,177.94 142.8,178.21 143,178.54 143.2,178.92 143.4,179.35 143.6,179.81 143.8,180.3 144,180.82 144.2,181.36 144.4,181.9" fill="none" stroke="#c00000" stroke-width="1.5" stroke-linejoin="round" />
<polyline points="99,201.1 99.2,200.55 99.4,200.01 99.6,199.48 99.8,198.98 100,198.51 100.2,198.08 100.4,197.69 100.6,197.36 100.8,197.07 101,196.85 101.2,196.68 101.4,196.64 101.6,196.78 101.8,196.99 102,197.26 102.2,197.58 102.4,197.95 102.6,198.37 102.8,198.82 103,199.31 103.2,199.83 103.4,200.37 103.6,200.92 103.8,201.47 104,202.01 104.2,202.54 104.4,203.05 104.6,203.53 104.8,203.98 105,204.38 105.2,204.74 105.4,205.04 105.6,205.29 105.8,205.47 106,205.6 106.2,205.47 106.4,205.29 106.6,205.04 106.8,204.74 107,204.38 107.2,203.98 107.4,203.53 107.6,203.05 107.8,202.54 108,202.01 108.2,201.47 108.4,200.92 108.6,200.37 108.8,199.83 109,199.31 109.2,198.82 109.4,198.37 109.6,197.95 109.8,197.58 110,197.26 110.2,196.99 110.4,196.78 110.6,196.64 110.8,196.68 111,196.85 111.2,197.07 111.4,197.36 111.6,197.69 111.8,198.08 112,198.51 112.2,198.98 112.4,199.48 112.6,200.01 112.8,200.55 113,201.1 113.2,201.65 113.4,202.19 113.6,202.72 113.8,203.22 114,203.69 114.2,204.12 114.4,204.51 114.6,204.84 114.8,205.13 115,205.35 115.2,205.52 115.4,205.56 115.6,205.42 115.8,205.21 116,204.94 116.2,204.62 116.4,204.25 116.6,203.83 116.8,203.38 117,202.89 117.2,202.37 117.4,201.83 117.6,201.28 117.8,200.73 118,200.19 118.2,199.66 118.4,199.15 118.6,198.67 118.8,198.22 119,197.82 119.2,197.46 119.4,197.16 119.6,196.91 119.8,196.73 120,196.6 120.2,196.73 120.4,196.91 120.6,197.16 120.8,197.46 121,197.82 121.2,198.22 121.4,198.67 121.6,199.15 121.8,199.66 122,200.19 122.2,200.73 122.4,201.28 122.6,201.83 122.8,202.37 123,202.89 123.2,203.38 123.4,203.83 123.6,204.25 123.8,204.62 124,204.94 124.2,205.21 124.4,205.42 124.6,205.56 124.8,205.52 125,205.35 125.2,205.13 125.4,204.84 125.6,204.51 125.8,204.12 126,203.69 126.2,203.22 126.4,202.72 126.6,202.19 126.8,201.65 127,201.1 127.2,200.55 127.4,200.01 127.6,199.48 127.8,198.98 128,198.51 128.2,198.08 128.4,197.69 128.6,197.36 128.8,197.07 129,196.85 129.2,196.68 129.4,196.64 129.6,196.78 129.8,196.99 130,197.26 130.2,197.58 130.4,197.95 130.6,198.37 130.8,198.82 131,199.31 131.2,199.83 131.4,200.37 131.6,200.92 131.8,201.47 132,202.01 132.2,202.54 132.4,203.05 132.6,203.53 132.8,203.98 133,204.38 133.2,204.74 133.4,205.04 133.6,205.29 133.8,205.47 134,205.6 134.2,205.47 134.4,205.29 134.6,205.04 134.8,204.74 135,204.38 135.2,203.98 135.4,203.53 135.6,203.05 135.8,202.54 136,202.01 136.2,201.47 136.4,200.92 136.6,200.37 136.8,199.83 137,199.31 137.2,198.82 137.4,198.37 137.6,197.95 137.8,197.58 138,197.26 138.2,196.99 138.4,196.78 138.6,196.64 138.8,196.68 139,196.85 139.2,197.07 139.4,197.36 139.6,197.69 139.8,198.08 140,198.51 140.2,198.98 140.4,199.48 140.6,200.01 140.8,200.55 141,201.1" fill="none" stroke="#c00000" stroke-width="1.5" stroke-linejoin="round" />
<path d="M127,214.2 L115,214.2 Q112.2,214.2 112.2,217 L112.2,222.8 Q112.2,225.6 115,225.6 L127,225.6" fill="none" stroke="#000" stroke-width="1.7"/>
<line x1="117.6" y1="217" x2="117.6" y2="222.8" stroke="#000" stroke-width="1.5" />
<line x1="117.6" y1="219.9" x2="139.6" y2="219.9" stroke="#000" stroke-width="1.5" />
<text x="113.2" y="173.8" font-size="14.5" font-weight="bold" font-style="italic" fill="#c00000" stroke="#c00000" stroke-width="0.15">k<tspan font-size="9" dy="2.2" font-style="normal" font-weight="normal">0</tspan></text>
<text x="144.6" y="196.4" font-size="14.5" font-weight="bold" font-style="italic" fill="#c00000" stroke="#c00000" stroke-width="0.15">k<tspan font-size="9.5" dy="2.6" font-style="normal">s</tspan></text>
<text x="131.3" y="234.6" font-size="15" font-weight="bold" font-style="italic" fill="#111" stroke="#111" stroke-width="0.15">η<tspan font-size="9" dy="4" font-style="normal">i</tspan></text>
<path d="M106.4,247.6 L111.6,249 L111,268 Z" fill="#d01818"/>
<path d="M116.2,247.6 L111.6,249 L111,268 Z" fill="#7a0000"/>
<path d="M106.4,247.6 L116.2,247.6 L111.6,249.4 Z" fill="#e02828"/>
<polyline points="116.6,257.6 116.97,256.51 117.32,255.51 117.65,254.65 117.85,254.65 117.92,255.51 117.97,256.51 118,257.6 118.03,258.69 118.08,259.69 118.15,260.55 118.35,260.55 118.68,259.69 119.03,258.69 119.4,257.6 119.77,256.51 120.12,255.51 120.45,254.65 120.65,254.65 120.72,255.51 120.77,256.51 120.8,257.6 120.83,258.69 120.88,259.69 120.95,260.55 121.15,260.55 121.48,259.69 121.83,258.69 122.2,257.6 122.57,256.51 122.92,255.51 123.25,254.65 123.45,254.65 123.52,255.51 123.57,256.51 123.6,257.6 123.63,258.69 123.68,259.69 123.75,260.55 123.95,260.55 124.28,259.69 124.63,258.69 125,257.6 125.37,256.51 125.72,255.51 126.05,254.65 126.25,254.65 126.32,255.51 126.37,256.51 126.4,257.6 126.43,258.69 126.48,259.69 126.55,260.55 126.75,260.55 127.08,259.69 127.43,258.69 127.8,257.6 128.17,256.51 128.52,255.51 128.85,254.65 129.05,254.65 129.12,255.51 129.17,256.51 129.2,257.6 129.23,258.69 129.28,259.69 129.35,260.55 129.55,260.55 129.88,259.69 130.23,258.69 130.6,257.6 130.97,256.51 131.32,255.51 131.65,254.65 131.85,254.65 131.92,255.51 131.97,256.51 132,257.6 132.03,258.69 132.08,259.69 132.15,260.55 132.35,260.55 132.68,259.69 133.03,258.69 133.4,257.6 133.77,256.51 134.12,255.51 134.45,254.65 134.65,254.65 134.72,255.51 134.77,256.51 134.8,257.6 134.83,258.69 134.88,259.69 134.95,260.55 135.15,260.55 135.48,259.69 135.83,258.69 136.2,257.6 136.57,256.51 136.92,255.51 137.25,254.65 137.45,254.65 137.52,255.51 137.57,256.51 137.6,257.6 137.63,258.69 137.68,259.69 137.75,260.55 137.95,260.55 138.28,259.69 138.63,258.69 139,257.6 139.37,256.51 139.72,255.51 140.05,254.65 140.25,254.65 140.32,255.51 140.37,256.51 140.4,257.6 140.43,258.69 140.48,259.69 140.55,260.55 140.75,260.55 141.08,259.69 141.43,258.69 141.8,257.6" fill="none" stroke="#e04848" stroke-width="0.85" stroke-linejoin="round" />
<text x="145" y="261.6" font-size="14.5" font-weight="bold" font-style="italic" fill="#c00000" stroke="#c00000" stroke-width="0.15">k<tspan font-size="9.5" dy="3.4" font-style="normal">s</tspan></text>
<polyline points="41.6,277.6 41.95,276.82 42.29,276.09 42.61,275.45 42.89,275.07 42.98,275.62 43.05,276.28 43.11,277.03 43.16,277.82 43.21,278.59 43.27,279.3 43.36,279.9 43.54,279.99 43.85,279.41 44.19,278.72 44.53,277.95 44.88,277.17 45.23,276.41 45.56,275.73 45.87,275.15 46.03,275.35 46.11,275.97 46.18,276.69 46.23,277.46 46.28,278.25 46.33,278.99 46.41,279.64 46.5,280.18 46.8,279.69 47.12,279.04 47.47,278.3 47.82,277.52 48.16,276.74 48.5,276.02 48.82,275.4 49.08,275.12 49.17,275.68 49.24,276.36 49.29,277.11 49.34,277.9 49.4,278.66 49.46,279.36 49.55,279.96 49.75,279.94 50.06,279.34 50.4,278.64 50.75,277.87 51.1,277.09 51.44,276.34 51.77,275.66 52.08,275.1 52.22,275.41 52.3,276.04 52.36,276.77 52.41,277.54 52.46,278.33 52.52,279.06 52.6,279.7 52.71,280.17 53.01,279.63 53.34,278.97 53.68,278.22 54.03,277.44 54.38,276.67 54.72,275.95 55.04,275.34 55.27,275.17 55.36,275.75 55.42,276.43 55.48,277.19 55.53,277.98 55.58,278.74 55.65,279.43 55.74,280.01 55.96,279.88 56.28,279.28 56.61,278.56 56.96,277.79 57.31,277.01 57.66,276.26 57.98,275.6 58.29,275.05 58.41,275.47 58.49,276.11 58.55,276.84 58.6,277.62 58.65,278.4 58.71,279.13 58.78,279.76 58.92,280.12 59.22,279.56 59.55,278.89 59.9,278.14 60.25,277.36 60.59,276.59 60.93,275.88 61.25,275.28 61.46,275.22 61.54,275.81 61.61,276.51 61.66,277.27 61.71,278.06 61.77,278.81 61.84,279.49 61.93,280.06 62.17,279.83 62.49,279.21 62.83,278.49 63.18,277.71 63.53,276.93 63.87,276.19 64.2,275.54 64.5,275 64.6,275.53 64.67,276.18 64.73,276.92 64.78,277.7 64.83,278.48 64.89,279.2 64.97,279.82 65.13,280.07 65.43,279.5 65.77,278.82 66.11,278.06 66.46,277.28 66.81,276.51 67.14,275.82 67.46,275.23 67.65,275.28 67.73,275.88 67.8,276.58 67.85,277.35 67.9,278.14 67.95,278.89 68.02,279.56 68.12,280.11 68.38,279.77 68.7,279.14 69.04,278.41 69.39,277.63 69.74,276.85 70.08,276.12 70.41,275.48 70.69,275.05 70.79,275.59 70.86,276.26 70.92,277 70.96,277.78 71.02,278.56 71.08,279.27 71.16,279.88 71.34,280.02 71.65,279.43 71.98,278.75 72.33,277.99 72.68,277.2 73.02,276.44 73.36,275.75 73.67,275.17 73.84,275.33 73.92,275.95 73.98,276.66 74.03,277.43 74.08,278.22 74.14,278.96 74.21,279.62 74.31,280.16 74.59,279.71 74.92,279.07 75.26,278.33 75.61,277.55 75.96,276.77 76.3,276.05 76.62,275.42 76.88,275.1 76.97,275.66 77.04,276.33 77.1,277.08 77.15,277.87 77.2,278.63 77.27,279.34 77.35,279.93 77.55,279.96 77.86,279.37 78.19,278.67 78.54,277.91 78.89,277.12 79.24,276.36 79.57,275.69 79.88,275.12 80.03,275.39 80.1,276.01 80.17,276.73 80.22,277.51 80.27,278.29 80.32,279.03 80.4,279.68 80.5,280.19 80.81,279.65 81.13,279 81.47,278.25 81.82,277.47 82.17,276.7 82.51,275.98 82.83,275.36 83.07,275.15 83.16,275.72 83.23,276.4 83.28,277.16 83.33,277.95 83.39,278.71 83.45,279.4 83.54,279.99 83.76,279.91 84.07,279.3 84.41,278.6 84.76,277.83 85.11,277.04 85.45,276.29 85.78,275.62 86.09,275.07 86.21,275.45 86.29,276.08 86.35,276.81 86.4,277.59 86.45,278.37 86.51,279.1 86.59,279.74 86.71,280.14 87.02,279.59 87.35,278.92 87.69,278.18 88.04,277.39 88.39,276.62 88.72,275.91 89.04,275.3 89.26,275.2 89.35,275.78 89.42,276.48 89.47,277.24 89.52,278.03 89.57,278.78 89.64,279.47 89.73,280.04 89.97,279.85 90.29,279.23 90.62,278.52 90.97,277.74 91.32,276.96 91.67,276.22 91.99,275.56 92.3,275.02 92.4,275.51 92.48,276.15 92.54,276.89 92.59,277.67 92.64,278.45 92.7,279.17 92.78,279.8 92.92,280.09 93.23,279.53 93.56,278.85 93.9,278.1 94.26,277.31 94.6,276.54 94.94,275.84 95.25,275.25 95.45,275.25 95.54,275.85 95.6,276.55 95.65,277.32 95.7,278.1 95.76,278.86 95.83,279.53 95.92,280.09 96.18,279.79 96.5,279.17 96.84,278.44 97.19,277.66 97.54,276.88 97.88,276.15 98.2,275.5 98.49,275.03 98.59,275.57 98.66,276.23 98.72,276.97 98.77,277.75 98.82,278.53 98.88,279.24 98.97,279.86 99.13,280.04 99.44,279.46 99.77,278.78 100.12,278.02 100.47,277.23 100.82,276.47 101.15,275.78 101.46,275.2 101.64,275.31 101.72,275.92 101.79,276.63 101.84,277.4 101.89,278.18 101.94,278.93 102.02,279.59 102.11,280.14 102.39,279.73 102.71,279.1 103.05,278.36 103.4,277.58 103.75,276.8 104.09,276.08 104.42,275.44 104.69,275.08 104.78,275.63 104.85,276.3 104.91,277.05 104.96,277.83 105.01,278.6 105.07,279.31 105.16,279.91 105.34,279.98 105.65,279.4 105.99,278.7 106.34,277.94 106.69,277.15 107.03,276.39 107.36,275.71 107.67,275.14 107.83,275.37 107.91,275.99 107.97,276.7 108.02,277.48 108.07,278.26 108.13,279 108.2,279.66 108.3,280.19 108.6,279.67 108.93,279.02 109.27,278.29 109.62,277.5 109.97,276.73 110.31,276.01 110.63,275.38 110.88,275.13 110.97,275.69 111.04,276.37 111.09,277.13 111.14,277.91 111.19,278.68 111.26,279.38 111.34,279.97 111.55,279.93 111.87,279.33 112.2,278.63 112.55,277.86 112.9,277.07 113.25,276.32 113.58,275.65 113.88,275.09 114.02,275.42 114.1,276.06 114.16,276.78 114.21,277.56 114.26,278.34 114.32,279.07 114.39,279.72 114.51,280.16 114.81,279.61 115.14,278.95 115.48,278.21 115.83,277.42 116.18,276.65 116.52,275.94 116.84,275.33 117.07,275.18 117.15,275.76 117.22,276.45 117.28,277.21 117.32,277.99 117.38,278.75 117.45,279.44 117.53,280.02 117.76,279.87 118.08,279.26 118.42,278.55 118.77,277.78 119.12,276.99 119.46,276.25 119.79,275.59 120.09,275.04 120.21,275.48 120.28,276.13 120.34,276.86 120.39,277.64 120.44,278.42 120.5,279.14 120.58,279.78 120.72,280.11 121.02,279.55 121.35,278.88 121.7,278.13 122.05,277.34 122.4,276.57 122.73,275.87 123.05,275.27 123.26,275.23 123.34,275.82 123.41,276.52 123.46,277.29 123.51,278.07 123.56,278.83 123.63,279.51 123.72,280.07 123.97,279.82 124.29,279.19 124.63,278.47 124.98,277.7 125.33,276.91 125.67,276.18 126,275.53 126.3,275.01 126.4,275.54 126.47,276.2 126.53,276.94 126.58,277.72 126.63,278.5 126.69,279.21 126.77,279.83 126.93,280.06 127.24,279.49 127.57,278.81 127.91,278.05 128.26,277.26 128.61,276.5 128.95,275.8 129.26,275.22 129.44,275.29 129.53,275.89 129.59,276.6 129.64,277.37 129.69,278.15 129.75,278.9 129.82,279.57 129.91,280.12 130.18,279.76 130.51,279.12 130.85,278.4 131.2,277.62 131.55,276.84 131.89,276.1 132.21,275.47 132.49,275.06 132.58,275.61 132.66,276.27 132.71,277.02 132.76,277.8 132.81,278.57 132.88,279.28 132.96,279.89 133.14,280 133.45,279.42 133.78,278.73 134.13,277.97 134.48,277.18 134.83,276.42 135.16,275.74 135.47,275.16 135.63,275.34 135.72,275.96 135.78,276.67 135.83,277.45 135.88,278.23 135.94,278.97 136.01,279.63 136.11,280.17 136.4,279.7 136.72,279.05 137.06,278.32 137.41,277.54 137.76,276.76 138.1,276.03 138.42,275.41 138.68,275.11 138.77,275.67 138.84,276.34 138.9,277.1 138.95,277.88 139,278.65 139.06,279.35 139.15,279.95 139.35,279.95 139.66,279.36 140,278.66 140.34,277.89 140.7,277.1 141.04,276.35 141.37,275.67 141.68,275.11 141.82,275.4 141.9,276.03 141.96,276.75 142.01,277.53 142.06,278.31 142.12,279.05 142.2,279.69 142.3,280.18 142.61,279.64 142.93,278.98 143.28,278.24 143.63,277.46 143.98,276.68 144.31,275.97 144.63,275.35 144.87,275.16 144.96,275.73 145.03,276.42 145.08,277.17 145.13,277.96 145.18,278.72 145.25,279.42 145.34,280 145.56,279.9 145.88,279.29 146.21,278.58 146.56,277.81 146.91,277.02 147.25,276.28 147.58,275.61 147.89,275.06 148.01,275.46 148.09,276.1 148.15,276.83 148.2,277.61 148.25,278.39 148.31,279.12 148.39,279.75 148.51,280.13 148.82,279.58 149.15,278.91 149.49,278.16 149.84,277.37 150.19,276.6 150.53,275.9 150.84,275.29 151.06,275.21 151.15,275.8 151.21,276.49 151.27,277.25 151.32,278.04 151.37,278.8 151.44,279.48 151.53,280.05 151.77,279.84 152.09,279.22 152.43,278.5 152.78,277.73 153.13,276.95 153.47,276.2 153.79,275.55 154.1,275.01 154.2,275.52 154.28,276.17 154.33,276.91 154.38,277.69 154.43,278.47 154.5,279.19 154.57,279.81 154.72,280.08 155.03,279.51 155.36,278.84 155.71,278.08 156.06,277.29 156.41,276.53 156.74,275.83 157.05,275.24 157.25,275.27 157.33,275.86 157.4,276.57 157.45,277.33 157.5,278.12 157.56,278.87 157.63,279.54 157.72,280.1 157.98,279.78 158.3,279.15 158.64,278.43 158.99,277.65 159.34,276.87 159.68,276.13 160.01,275.49 160.29,275.04 160.39,275.58 160.46,276.24 160.52,276.98 160.57,277.77 160.62,278.54 160.68,279.25 160.76,279.87 160.93,280.03 161.24,279.45 161.58,278.76 161.92,278 162.27,277.21 162.62,276.45 162.95,275.77 163.26,275.18 163.44,275.32 163.52,275.93 163.58,276.64 163.64,277.42 163.68,278.2 163.74,278.94 163.81,279.61 163.91,280.15 164.19,279.72 164.52,279.08 164.86,278.35 165.21,277.57 165.56,276.79 165.9,276.06 166.22,275.43 166.48,275.09 166.58,275.64 166.65,276.31 166.7,277.06 166.75,277.85 166.8,278.62 166.87,279.32 166.95,279.92 167.14,279.97 167.46,279.38 167.79,278.69 168.14,277.92 168.49,277.14 168.83,276.38 169.17,275.7 169.47,275.13 169.63,275.38 169.71,276 169.77,276.72 169.82,277.5 169.87,278.28 169.93,279.02 170,279.67 170.1,280.2 170.4,279.66 170.73,279.01 171.07,278.27 171.42,277.49 171.77,276.71 172.11,275.99 172.43,275.37 172.67,275.14 172.76,275.71 172.83,276.39 172.89,277.14 172.94,277.93 172.99,278.69 173.06,279.39 173.14,279.98 173.35,279.92 173.67,279.32 174.01,278.61 174.35,277.84 174.7,277.06 175.05,276.31 175.38,275.64 175.68,275.08 175.82,275.44 175.89,276.07 175.95,276.8 176,277.58 176.05,278.36 176.11,279.09 176.19,279.73 176.31,280.15 176.62,279.6 176.94,278.94 177.29,278.19 177.64,277.41 177.99,276.64 178.32,275.92 178.64,275.32 178.86,275.19 178.95,275.77 179.02,276.46 179.07,277.22 179.12,278.01 179.18,278.77 179.24,279.45 179.33,280.03 179.56,279.86 179.88,279.25 180.22,278.53 180.57,277.76 180.92,276.98 181.26,276.23 181.59,275.57 181.89,275.03 182,275.5 182.08,276.14 182.14,276.87 182.19,277.66 182.24,278.43 182.3,279.16 182.38,279.79 182.52,280.1 182.83,279.54 183.16,278.86 183.5,278.11 183.85,277.33 184.2,276.56 184.54,275.86 184.85,275.26 185.05,275.24 185.14,275.84 185.2,276.54 185.26,277.3 185.31,278.09 185.36,278.84 185.43,279.52 185.52,280.08 185.78,279.8 186.1,279.18 186.44,278.46 186.78,277.68 187.13,276.9 187.48,276.16 187.8,275.51 188.1,275.02 188.19,275.56 188.27,276.21 188.32,276.95 188.37,277.74 188.42,278.51 188.49,279.23 188.57,279.85 188.73,280.05 189.04,279.47 189.37,278.79 189.72,278.03 190.07,277.25 190.41,276.48 190.75,275.79 191.06,275.21 191.24,275.3 191.33,275.9 191.39,276.61 191.44,277.38 191.49,278.17 191.55,278.92 191.62,279.58 191.71,280.13 191.99,279.75 192.31,279.11 192.65,278.38 193,277.6" fill="none" stroke="#45b84f" stroke-width="0.9" stroke-linejoin="round" />
<circle cx="68" cy="277.6" r="6" fill="#00b050"/>
<circle cx="110.4" cy="277.6" r="6" fill="#00b050"/>
<circle cx="155" cy="277.6" r="6" fill="#00b050"/>
<polyline points="54.4,289.03 55.4,290.16 56.4,291.32 57.4,292.46 58.4,293.58 59.4,294.64 60.4,295.63 61.4,296.52 62.4,297.3 63.4,297.94 64.4,298.44 65.4,298.79 66.4,298.97 67.4,298.99 68.4,298.84 69.4,298.52 70.4,298.05 71.4,297.44 72.4,296.69 73.4,295.82 74.4,294.85 75.4,293.8 76.4,292.69 77.4,291.55 78.4,290.39 79.4,289.25 80.4,288.15 81.4,287.1 82.4,286.14 83.4,285.27 84.4,284.53 85.4,283.92 86.4,283.46 87.4,283.15 88.4,283.01 89.4,283.04 90.4,283.23 91.4,283.58 92.4,284.09 93.4,284.74 94.4,285.52 95.4,286.42 96.4,287.41 97.4,288.47 98.4,289.59 99.4,290.74 100.4,291.89 101.4,293.03 102.4,294.12 103.4,295.15 104.4,296.09 105.4,296.93 106.4,297.64 107.4,298.21 108.4,298.63 109.4,298.9 110.4,299 111.4,298.93 112.4,298.7 113.4,298.31 114.4,297.76 115.4,297.08 116.4,296.27 117.4,295.34 118.4,294.33 119.4,293.25 120.4,292.12 121.4,290.97 122.4,289.82 123.4,288.69 124.4,287.61 125.4,286.61 126.4,285.69 127.4,284.88 128.4,284.21 129.4,283.67 130.4,283.28 131.4,283.06 132.4,283 133.4,283.11 134.4,283.38 135.4,283.81 136.4,284.39 137.4,285.11 138.4,285.95 139.4,286.9 140.4,287.93 141.4,289.03 142.4,290.16 143.4,291.32 144.4,292.46 145.4,293.58 146.4,294.64 147.4,295.63 148.4,296.52 149.4,297.3 150.4,297.94 151.4,298.44 152.4,298.79 153.4,298.97 154.4,298.99 155.4,298.84 156.4,298.52 157.4,298.05 158.4,297.44 159.4,296.69 160.4,295.82 161.4,294.85 162.4,293.8 163.4,292.69 164.4,291.55 165.4,290.39 166.4,289.25 167.4,288.15 168.4,287.1 169.4,286.14 170.4,285.27 171.4,284.53 172.4,283.92 173.4,283.46 174.4,283.15 175.4,283.01 176.4,283.04 177.4,283.23 178.4,283.58 179.4,284.09 180.4,284.74 181.4,285.52 182.4,286.42 183.4,287.41 184.4,288.47 185.4,289.59 186.4,290.74 187.4,291.89 188.4,293.03" fill="none" stroke="#e03030" stroke-width="1.3" stroke-linejoin="round" />
</svg>
</body></html>
